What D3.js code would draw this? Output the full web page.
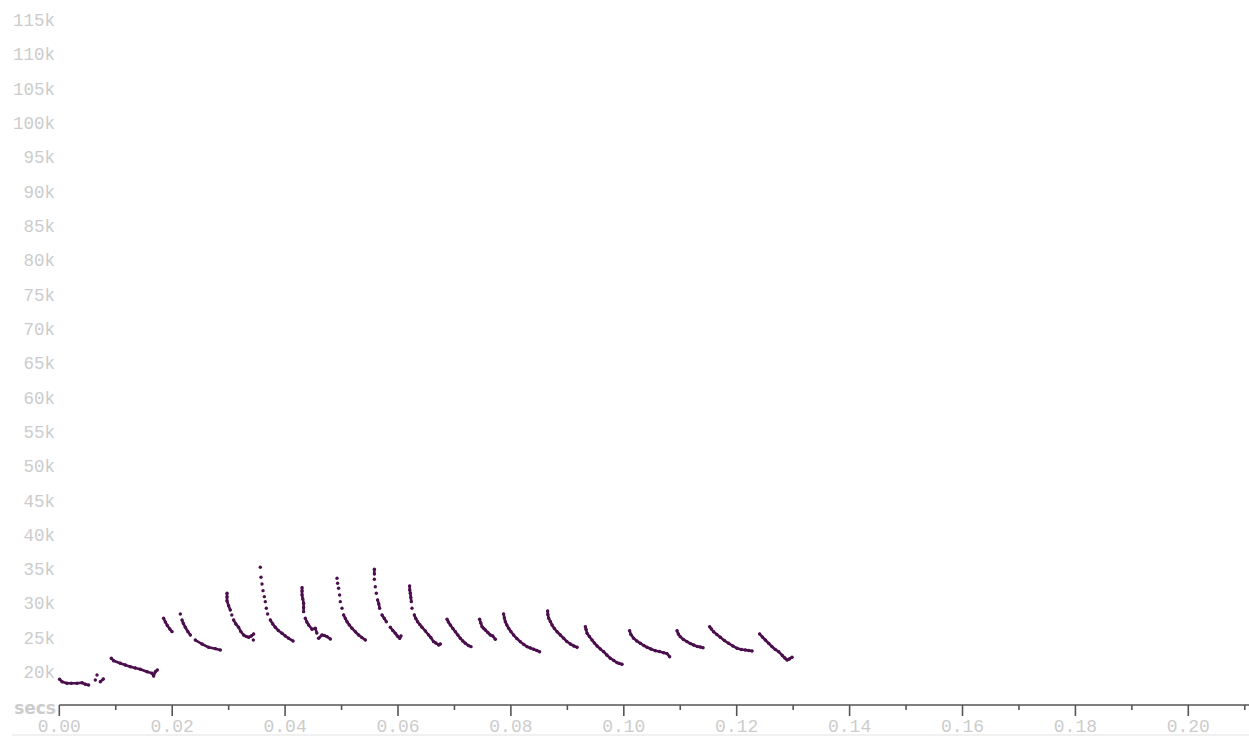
<!DOCTYPE html>
<html>
<head>
<meta charset="utf-8">
<script src="https://cdn.jsdelivr.net/npm/d3@7"></script>
<style>
  html, body { margin: 0; padding: 0; background: #fff; }
  svg { display: block; }
</style>
</head>
<body>
<div id="chart"></div>
<script>
// pulses: [time in ms, frequency in kHz]
var pulse_01 = [[0.05,18.94],[0.48,18.59],[1.36,18.35],[2.13,18.35],[3.14,18.35],[4.02,18.44],[4.61,18.21],[5.19,18.10]];
var pulse_02 = [[6.38,18.83],[6.68,19.56],[7.26,18.59],[7.80,18.98]];
var pulse_03 = [[9.21,22.00],[9.62,21.65],[10.81,21.27],[11.69,21.02],[12.58,20.77],[13.46,20.58],[14.35,20.39],[15.54,20.04],[16.42,19.81],[16.71,19.42],[17.01,20.04],[17.36,20.29]];
var pulse_04 = [[18.48,27.83],[18.78,27.29],[19.13,26.78],[19.58,26.27],[19.97,25.88]];
var pulse_05 = [[21.44,28.45],[21.74,27.58],[21.97,27.07],[22.32,26.52],[22.76,25.90],[23.21,25.39],[24.09,24.66],[25.28,24.08],[26.45,23.60],[27.64,23.40],[28.52,23.21]];
var pulse_06 = [[29.71,31.47],[29.71,30.93],[29.71,30.35],[29.99,29.66],[30.29,29.04],[30.56,28.31],[30.88,27.58],[31.27,27.00],[31.76,26.52],[32.15,25.90],[32.65,25.39],[33.13,25.17],[33.54,25.06],[34.01,25.25],[34.42,25.54],[34.37,24.66]];
var pulse_07 = [[35.61,35.26],[35.73,33.80],[35.91,32.83],[36.09,31.85],[36.32,30.98],[36.49,30.25],[36.67,29.29],[36.90,28.45],[37.38,27.58],[37.82,27.00],[38.26,26.52],[38.79,26.05],[39.45,25.64],[40.04,25.25],[40.62,24.91],[41.40,24.52]];
var pulse_08 = [[43.00,32.29],[43.00,31.81],[43.00,31.22],[43.14,30.64],[43.28,30.01],[43.28,29.40],[43.28,28.79],[43.58,27.83],[43.85,27.29],[44.17,26.85],[44.77,26.22],[45.35,26.37],[45.62,25.69],[45.94,24.91],[46.54,25.39],[46.95,25.32],[47.43,25.15],[48.01,24.81]];
var pulse_09 = [[49.20,33.66],[49.30,32.93],[49.48,32.20],[49.66,31.22],[49.78,30.25],[50.08,29.29],[50.37,28.31],[50.67,27.80],[50.97,27.33],[51.37,26.85],[51.85,26.37],[52.44,25.87],[53.02,25.39],[53.59,25.03],[54.21,24.66]];
var pulse_10 = [[55.81,34.97],[55.81,34.29],[55.81,33.51],[55.98,32.43],[56.16,31.47],[56.39,30.50],[56.60,29.91],[56.75,29.29],[57.17,28.31],[57.58,27.80],[57.93,27.33],[58.64,26.52],[59.08,26.05],[59.53,25.64],[59.88,25.25],[60.29,24.91],[60.53,25.25]];
var pulse_11 = [[62.06,32.54],[62.09,31.95],[62.18,31.47],[62.27,30.86],[62.36,30.25],[62.48,29.29],[62.89,28.31],[63.15,27.80],[63.47,27.33],[63.86,26.92],[64.25,26.52],[64.84,25.98],[65.42,25.39],[65.81,25.03],[66.31,24.42],[66.70,24.23],[67.20,23.94],[67.50,24.08]];
var pulse_12 = [[68.69,27.68],[68.92,27.29],[69.27,26.85],[69.72,26.34],[70.16,25.87],[70.60,25.39],[71.04,24.91],[71.48,24.52],[71.93,24.18],[72.46,23.86],[72.93,23.69]];
var pulse_13 = [[74.46,27.68],[74.67,27.14],[74.89,26.60],[75.20,26.34],[75.47,26.12],[75.91,25.76],[76.35,25.39],[76.79,25.25],[77.24,24.77]];
var pulse_14 = [[78.71,28.45],[78.84,27.87],[79.01,27.33],[79.28,26.85],[79.60,26.37],[79.99,25.90],[80.48,25.39],[81.05,24.88],[81.67,24.42],[82.29,24.01],[82.86,23.69],[83.44,23.50],[84.03,23.31],[84.60,23.13],[85.09,22.96]];
var pulse_15 = [[86.51,28.89],[86.55,28.38],[86.69,27.83],[86.99,27.36],[87.29,26.85],[87.70,26.34],[88.18,25.87],[88.76,25.39],[89.35,24.91],[89.91,24.45],[90.53,24.08],[91.15,23.79],[91.72,23.60]];
var pulse_16 = [[93.19,26.60],[93.31,26.20],[93.49,25.64],[93.90,25.17],[94.37,24.66],[94.78,24.23],[95.26,23.79],[95.84,23.35],[96.43,22.96],[96.99,22.48],[97.61,22.00],[98.23,21.68],[98.80,21.36],[99.21,21.24],[99.68,21.12]];
var pulse_17 = [[101.03,26.02],[101.25,25.47],[101.74,24.91],[102.31,24.52],[102.93,24.18],[103.55,23.86],[104.12,23.60],[104.79,23.35],[105.59,23.10],[106.30,22.99],[107.06,22.81],[107.63,22.70],[108.12,22.23]];
var pulse_18 = [[109.43,26.02],[109.66,25.54],[110.01,25.15],[110.55,24.74],[111.20,24.42],[111.78,24.15],[112.37,23.94],[113.02,23.72],[113.55,23.64],[114.03,23.54]];
var pulse_19 = [[115.21,26.60],[115.51,26.27],[115.91,25.87],[116.48,25.47],[117.10,25.06],[117.81,24.59],[118.57,24.18],[119.32,23.79],[120.06,23.45],[120.82,23.28],[121.53,23.21],[122.15,23.13],[122.72,23.06]];
var pulse_20 = [[124.06,25.54],[124.54,25.10],[125.07,24.66],[125.69,24.15],[126.26,23.69],[126.84,23.28],[127.43,22.96],[128.08,22.41],[128.53,22.04],[128.92,21.75],[129.33,21.90],[129.80,22.14]];

var pulses = [pulse_01, pulse_02, pulse_03, pulse_04, pulse_05, pulse_06, pulse_07, pulse_08, pulse_09, pulse_10,
  pulse_11, pulse_12, pulse_13, pulse_14, pulse_15, pulse_16, pulse_17, pulse_18, pulse_19, pulse_20];

var freq_ticks = [20000, 25000, 30000, 35000, 40000, 45000, 50000, 55000, 60000, 65000,
  70000, 75000, 80000, 85000, 90000, 95000, 100000, 105000, 110000, 115000];
var time_major = [0, 0.02, 0.04, 0.06, 0.08, 0.10, 0.12, 0.14, 0.16, 0.18, 0.20];
var time_minor = [0.01, 0.03, 0.05, 0.07, 0.09, 0.11, 0.13, 0.15, 0.17, 0.19, 0.21];

var chart_width = 1249;
var chart_height = 737;
var axis_y = 705;
var dot_color = '#4b0f4d';
var label_color = '#cccccc';
var join_gap = 5; // px of vertical jump: smaller steps read as a continuous trace

var svg = d3.select('#chart')
  .append('svg')
  .attr('width', chart_width)
  .attr('height', chart_height);

// scales
var x_scale = d3.scaleLinear()
  .domain([0, 0.2])
  .range([59.3, 1188.3]);

var y_scale = d3.scaleLinear()
  .domain([20000, 115000])
  .range([672, 20]);

// frequency labels, no axis line
svg.selectAll('text.freq')
  .data(freq_ticks)
  .enter()
  .append('text')
  .attr('class', 'freq')
  .attr('x', 55)
  .attr('y', (d) => y_scale(d))
  .attr('dy', '0.35em')
  .attr('text-anchor', 'end')
  .attr('fill', label_color)
  .style('font-family', 'Liberation Mono, monospace')
  .style('font-size', '17.5px')
  .text((d) => (d / 1000) + 'k');

// time axis
var x_axis = svg.append('g')
  .attr('transform', 'translate(0,' + axis_y + ')');

x_axis.append('line')
  .attr('x1', x_scale(0))
  .attr('x2', chart_width)
  .attr('y1', 0)
  .attr('y2', 0)
  .attr('stroke', '#555')
  .attr('stroke-width', 1.6);

x_axis.selectAll('line.major')
  .data(time_major)
  .enter()
  .append('line')
  .attr('class', 'major')
  .attr('x1', (d) => x_scale(d))
  .attr('x2', (d) => x_scale(d))
  .attr('y1', 0)
  .attr('y2', 11)
  .attr('stroke', '#555')
  .attr('stroke-width', 1.6);

x_axis.selectAll('line.minor')
  .data(time_minor)
  .enter()
  .append('line')
  .attr('class', 'minor')
  .attr('x1', (d) => x_scale(d))
  .attr('x2', (d) => x_scale(d))
  .attr('y1', 0)
  .attr('y2', 5)
  .attr('stroke', '#555')
  .attr('stroke-width', 1.6);

x_axis.selectAll('text')
  .data(time_major)
  .enter()
  .append('text')
  .attr('x', (d) => x_scale(d))
  .attr('y', 21)
  .attr('dy', '0.35em')
  .attr('text-anchor', 'middle')
  .attr('fill', label_color)
  .style('font-family', 'Liberation Mono, monospace')
  .style('font-size', '18px')
  .text((d) => d.toFixed(2));

svg.append('text')
  .attr('x', 56)
  .attr('y', axis_y + 3)
  .attr('dy', '0.35em')
  .attr('text-anchor', 'end')
  .attr('fill', label_color)
  .style('font-family', 'DejaVu Sans, sans-serif')
  .style('font-size', '17px')
  .style('font-weight', 'bold')
  .text('secs');

// faint rule under the labels
svg.append('line')
  .attr('x1', 12)
  .attr('x2', chart_width)
  .attr('y1', 735)
  .attr('y2', 735)
  .attr('stroke', '#e4e4e4')
  .attr('stroke-width', 1.2);

// pulses: dots, joined where the frequency step between samples is small
var px = (d) => x_scale(d[0] / 1000);
var py = (d) => y_scale(d[1] * 1000);

var segments = [];
pulses.forEach(function(p) {
  for (var i = 1; i < p.length; i++) {
    if (Math.abs(py(p[i]) - py(p[i - 1])) < join_gap) {
      segments.push([p[i - 1], p[i]]);
    }
  }
});

svg.selectAll('line.trace')
  .data(segments)
  .enter()
  .append('line')
  .attr('class', 'trace')
  .attr('x1', (d) => px(d[0]))
  .attr('y1', (d) => py(d[0]))
  .attr('x2', (d) => px(d[1]))
  .attr('y2', (d) => py(d[1]))
  .attr('stroke', dot_color)
  .attr('stroke-width', 2.6)
  .attr('stroke-linecap', 'round');

svg.selectAll('circle')
  .data(pulses.flat())
  .enter()
  .append('circle')
  .attr('cx', px)
  .attr('cy', py)
  .attr('r', 1.7)
  .attr('fill', dot_color);
</script>
</body>
</html>
